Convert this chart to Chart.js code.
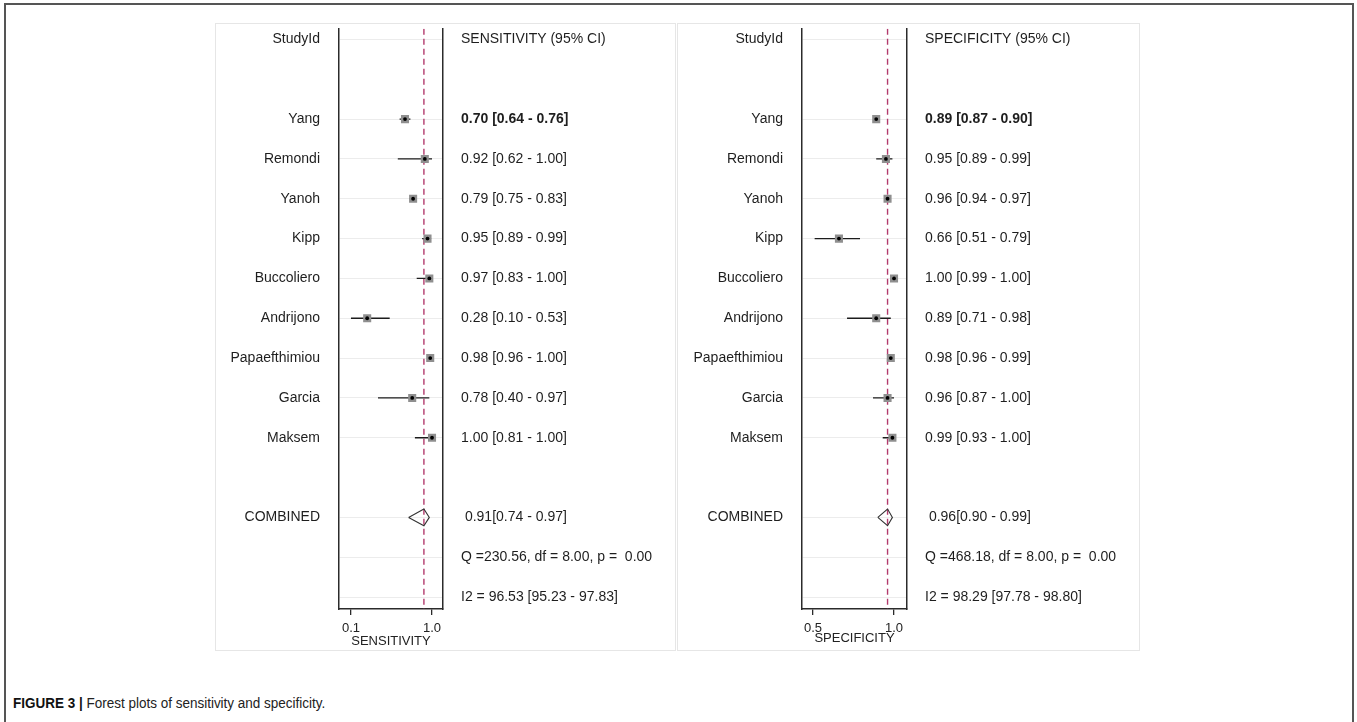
<!DOCTYPE html>
<html>
<head>
<meta charset="utf-8">
<script src="https://cdn.jsdelivr.net/npm/chart.js@4.4.1/dist/chart.umd.min.js"></script>
<style>
  html, body { margin: 0; padding: 0; background: #fff; }
  body { width: 1357px; height: 722px; position: relative; overflow: hidden; font-family: "Liberation Sans", Arial, sans-serif; }
  #frame { position: absolute; left: 4px; top: 3px; width: 1350px; height: 760px; border: 2px solid #555; border-bottom: none; box-sizing: border-box; }
  .panel { position: absolute; top: 23px; height: 628px; }
  .panel .box { position: absolute; left: 0; top: 0; right: 0; bottom: 0; border: 1px solid #e6e6e6; }
  .panel canvas { position: absolute; left: 0; top: 0; }
  #caption { position: absolute; left: 13px; top: 694px; font-family: "Liberation Sans", Arial, sans-serif; font-size: 15.5px; color: #222; white-space: nowrap; transform: scaleX(0.87); transform-origin: left center; }
  #caption b { color: #111; }
</style>
</head>
<body>
<div id="frame"></div>
<div class="panel" style="left:215px;width:461px"><div class="box"></div><canvas id="sens" width="461" height="628"></canvas></div>
<div class="panel" style="left:677px;width:463px"><div class="box"></div><canvas id="spec" width="463" height="628"></canvas></div>
<div id="caption"><b>FIGURE 3 |</b> Forest plots of sensitivity and specificity.</div>
<script>
const studies = ["Yang", "Remondi", "Yanoh", "Kipp", "Buccoliero", "Andrijono", "Papaefthimiou", "Garcia", "Maksem"];

const sensEst = [0.70, 0.92, 0.79, 0.95, 0.97, 0.28, 0.98, 0.78, 1.00];
const sensLo = [0.64, 0.62, 0.75, 0.89, 0.83, 0.10, 0.96, 0.40, 0.81];
const sensHi = [0.76, 1.00, 0.83, 0.99, 1.00, 0.53, 1.00, 0.97, 1.00];
const sensCombined = [0.91, 0.74, 0.97];
const sensHet = ["Q =230.56, df = 8.00, p =  0.00", "I2 = 96.53 [95.23 - 97.83]"];
const sensTicks = [0.1, 1.0];

const specEst = [0.89, 0.95, 0.96, 0.66, 1.00, 0.89, 0.98, 0.96, 0.99];
const specLo = [0.87, 0.89, 0.94, 0.51, 0.99, 0.71, 0.96, 0.87, 0.93];
const specHi = [0.90, 0.99, 0.97, 0.79, 1.00, 0.98, 0.99, 1.00, 1.00];
const specCombined = [0.96, 0.90, 0.99];
const specHet = ["Q =468.18, df = 8.00, p =  0.00", "I2 = 98.29 [97.78 - 98.80]"];
const specTicks = [0.5, 1.0];

const FONT = "'Liberation Sans', Arial, sans-serif";
const ROW_MIN = -0.27;
const ROW_MAX = 14.3;
const COMBINED_ROW = 12;

const ci = (e, l, h) => `${e.toFixed(2)} [${l.toFixed(2)} - ${h.toFixed(2)}]`;

// kill the label padding chart.js reserves, so the plot box sits where we want it
const fixBox = (w, h) => (scale) => {
  if (w != null) scale.width = w;
  if (h != null) scale.height = h;
  scale.paddingTop = 0;
  scale.paddingBottom = 0;
  scale.paddingLeft = 0;
  scale.paddingRight = 0;
};

const makePanel = (id, p) => {
  const leftLabels = ["StudyId", "", ...studies, "", "COMBINED", "", ""];
  const rightLabels = [
    p.header, "",
    ...p.est.map((e, i) => ci(e, p.lo[i], p.hi[i])),
    "",
    " " + `${p.comb[0].toFixed(2)}[${p.comb[1].toFixed(2)} - ${p.comb[2].toFixed(2)}]`,
    p.het[0], p.het[1],
  ];
  const rowIdx = leftLabels.map((_, i) => ({ value: i }));

  const pts = p.est.map((e, i) => ({ x: e, y: i + 2 }));
  const whiskers = p.est.map((e, i) => ({
    type: "line",
    data: [{ x: p.lo[i], y: i + 2 }, { x: p.hi[i], y: i + 2 }],
    borderColor: "#1c1c1c",
    borderWidth: 1.3,
    pointRadius: 0,
    order: 4,
  }));
  const [c, cl, ch] = p.comb;
  const half = 0.21;
  const diamond = [
    { x: cl, y: COMBINED_ROW },
    { x: c, y: COMBINED_ROW - half },
    { x: ch, y: COMBINED_ROW },
    { x: c, y: COMBINED_ROW + half },
    { x: cl, y: COMBINED_ROW },
  ];

  const tickFont = (ctx) => ({ family: FONT, size: 14, weight: ctx.index === 2 ? "bold" : "normal" });

  new Chart(document.getElementById(id), {
    type: "scatter",
    data: {
      datasets: [
        {
          type: "line",
          data: [{ x: c, y: ROW_MIN }, { x: c, y: ROW_MAX }],
          borderColor: "#b23a6c",
          borderWidth: 1.4,
          borderDash: [6, 4],
          pointRadius: 0,
          order: 6,
        },
        ...whiskers,
        {
          type: "line",
          data: diamond,
          borderColor: "#333",
          borderWidth: 1.1,
          pointRadius: 0,
          tension: 0,
          fill: false,
          order: 3,
        },
        {
          data: pts,
          pointStyle: "rect",
          pointRadius: 5.7,
          backgroundColor: "#8f8f8f",
          borderWidth: 0,
          order: 2,
        },
        {
          data: pts,
          pointStyle: "circle",
          pointRadius: 1.9,
          backgroundColor: "#000",
          borderWidth: 0,
          order: 1,
        },
      ],
    },
    options: {
      responsive: false,
      animation: false,
      events: [],
      layout: { padding: 0 },
      plugins: { legend: { display: false }, tooltip: { enabled: false } },
      scales: {
        x: {
          type: "linear",
          min: p.xMin,
          max: p.xMax,
          offset: false,
          afterBuildTicks: (s) => { s.ticks = p.ticks.map((v) => ({ value: v })); },
          afterFit: fixBox(null, 42),
          ticks: {
            callback: (v) => Number(v).toFixed(1),
            font: { family: FONT, size: 13 },
            color: "#222",
            padding: 6,
            maxRotation: 0,
            autoSkip: false,
          },
          grid: { drawOnChartArea: false, drawTicks: true, tickLength: 6, color: "#2b2b2b", lineWidth: 1.3 },
          border: { display: true, color: "#2b2b2b", width: 1.5 },
          title: {
            display: true,
            text: p.axisTitle,
            font: { family: FONT, size: 13 },
            color: "#222",
            padding: { top: 0, bottom: p.titlePad },
          },
        },
        y: {
          type: "linear",
          position: "left",
          reverse: true,
          min: ROW_MIN,
          max: ROW_MAX,
          offset: false,
          afterBuildTicks: (s) => { s.ticks = rowIdx.map((t) => ({ value: t.value })); },
          afterFit: fixBox(p.leftW, null),
          ticks: {
            callback: (v) => leftLabels[v],
            font: { family: FONT, size: 14 },
            color: "#1e1e1e",
            padding: 19,
            autoSkip: false,
          },
          grid: {
            offset: false,
            drawTicks: false,
            color: (ctx) => (rightLabels[ctx.index] ? "#ececec" : "rgba(0,0,0,0)"),
            lineWidth: 1,
          },
          border: { display: true, color: "#2b2b2b", width: 1.5 },
        },
        y2: {
          type: "linear",
          position: "right",
          reverse: true,
          min: ROW_MIN,
          max: ROW_MAX,
          offset: false,
          afterBuildTicks: (s) => { s.ticks = rowIdx.map((t) => ({ value: t.value })); },
          afterFit: fixBox(p.rightW, null),
          ticks: {
            callback: (v) => rightLabels[v],
            font: tickFont,
            color: "#1e1e1e",
            padding: 18,
            autoSkip: false,
          },
          grid: { offset: false, drawOnChartArea: false, drawTicks: false },
          border: { display: true, color: "#2b2b2b", width: 1.5 },
        },
      },
    },
  });
};

makePanel("sens", {
  est: sensEst, lo: sensLo, hi: sensHi, comb: sensCombined, het: sensHet,
  header: "SENSITIVITY (95% CI)", axisTitle: "SENSITIVITY", ticks: sensTicks,
  xMin: -0.033, xMax: 1.122, leftW: 124, rightW: 233, titlePad: 2,
});

makePanel("spec", {
  est: specEst, lo: specLo, hi: specHi, comb: specCombined, het: specHet,
  header: "SPECIFICITY (95% CI)", axisTitle: "SPECIFICITY", ticks: specTicks,
  xMin: 0.432, xMax: 1.080, leftW: 125, rightW: 233, titlePad: 5,
});
</script>
</body>
</html>
